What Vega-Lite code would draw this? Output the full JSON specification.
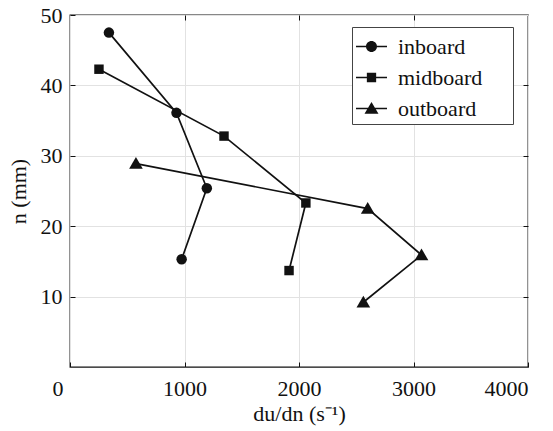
{
  "$schema": "https://vega.github.io/schema/vega-lite/v6.json",
  "width": 458,
  "height": 352,
  "autosize": {"type": "none"},
  "padding": {"left": 70, "top": 15, "right": 25, "bottom": 64},
  "background": "white",
  "config": {
    "font": "Liberation Serif",
    "view": {"stroke": "#111", "strokeWidth": 1.3},
    "axis": {
      "domain": false,
      "labelFont": "Liberation Serif",
      "labelFontSize": 22,
      "labelColor": "#111",
      "titleFont": "Liberation Serif",
      "titleFontSize": 22,
      "titleFontWeight": "normal",
      "titleColor": "#111",
      "tickColor": "#111",
      "tickWidth": 1,
      "tickSize": -5,
      "gridColor": "#e2e2e2",
      "gridWidth": 1
    }
  },
  "data": {
    "values": [
      {"loc": "inboard", "i": 1, "dudn": 340, "n": 47.5},
      {"loc": "inboard", "i": 2, "dudn": 930, "n": 36.1},
      {"loc": "inboard", "i": 3, "dudn": 1195, "n": 25.4},
      {"loc": "inboard", "i": 4, "dudn": 975, "n": 15.3},
      {"loc": "midboard", "i": 1, "dudn": 253, "n": 42.3},
      {"loc": "midboard", "i": 2, "dudn": 1345, "n": 32.8},
      {"loc": "midboard", "i": 3, "dudn": 2060, "n": 23.3},
      {"loc": "midboard", "i": 4, "dudn": 1913, "n": 13.7},
      {"loc": "outboard", "i": 1, "dudn": 576, "n": 28.9},
      {"loc": "outboard", "i": 2, "dudn": 2600, "n": 22.5},
      {"loc": "outboard", "i": 3, "dudn": 3070, "n": 15.9},
      {"loc": "outboard", "i": 4, "dudn": 2562, "n": 9.2}
    ]
  },
  "layer": [
    {
      "mark": {"type": "line", "color": "#111", "strokeWidth": 1.7},
      "encoding": {
        "x": {
          "field": "dudn",
          "type": "quantitative",
          "scale": {"domain": [0, 4000], "nice": false},
          "axis": {
            "orient": "bottom",
            "values": [0, 1000, 2000, 3000, 4000],
            "format": "d",
            "title": "du/dn (s⁻¹)",
            "labelPadding": 16,
            "titlePadding": 4,
            "labelOffset": {"condition": {"test": "datum.value === 0", "value": -18}, "value": 0}
          }
        },
        "y": {
          "field": "n",
          "type": "quantitative",
          "scale": {"domain": [0, 50], "nice": false, "zero": false},
          "axis": {
            "orient": "left",
            "values": [10, 20, 30, 40, 50],
            "title": "n (mm)",
            "labelPadding": 13,
            "titlePadding": 10
          }
        },
        "detail": {"field": "loc"},
        "order": {"field": "i", "type": "quantitative"}
      }
    },
    {
      "mark": {"type": "point", "filled": true, "color": "#111", "opacity": 1, "size": 110},
      "encoding": {
        "x": {
          "field": "dudn",
          "type": "quantitative",
          "scale": {"domain": [0, 4000], "nice": false},
          "axis": {"orient": "top", "values": [1000, 2000, 3000], "labels": false, "title": null, "grid": false}
        },
        "y": {
          "field": "n",
          "type": "quantitative",
          "scale": {"domain": [0, 50], "nice": false, "zero": false},
          "axis": {"orient": "right", "values": [10, 20, 30, 40], "labels": false, "title": null, "grid": false}
        },
        "shape": {
          "field": "loc",
          "type": "nominal",
          "scale": {
            "domain": ["inboard", "midboard", "outboard"],
            "range": ["circle", "M-0.9,-0.9H0.9V0.9H-0.9Z", "M0,-1.25L1.3,1H-1.3Z"]
          },
          "legend": null
        }
      }
    },
    {
      "transform": [{"filter": "false"}],
      "mark": {"type": "point", "filled": true, "color": "#111", "opacity": 1},
      "encoding": {
        "x": {"field": "dudn", "type": "quantitative", "axis": null},
        "y": {"field": "n", "type": "quantitative", "axis": null},
        "shape": {
          "field": "loc",
          "type": "nominal",
          "scale": {
            "domain": ["inboard", "midboard", "outboard"],
            "range": [
              "M-1,-0.055H1V0.055H-1ZM0.355,0A0.355,0.355 0 1,1 -0.355,0A0.355,0.355 0 1,1 0.355,0Z",
              "M-1,-0.055H1V0.055H-1ZM-0.3,-0.3H0.3V0.3H-0.3Z",
              "M-1,-0.055H1V0.055H-1ZM0,-0.42L0.45,0.34H-0.45Z"
            ]
          },
          "legend": {
            "orient": "none",
            "legendX": 282,
            "legendY": 12,
            "title": "x",
            "titleOrient": "right",
            "titleOpacity": 0,
            "titleFontSize": 22,
            "titlePadding": 16,
            "padding": 4,
            "rowPadding": 4,
            "labelFont": "Liberation Serif",
            "labelFontSize": 22,
            "labelColor": "#111",
            "labelOffset": 11,
            "symbolSize": 961,
            "symbolStrokeWidth": 0,
            "symbolFillColor": "#111",
            "symbolOpacity": 1,
            "strokeColor": "#444",
            "fillColor": "white"
          }
        }
      }
    }
  ],
  "resolve": {
    "scale": {"shape": "independent"},
    "axis": {"x": "independent", "y": "independent"}
  }
}
